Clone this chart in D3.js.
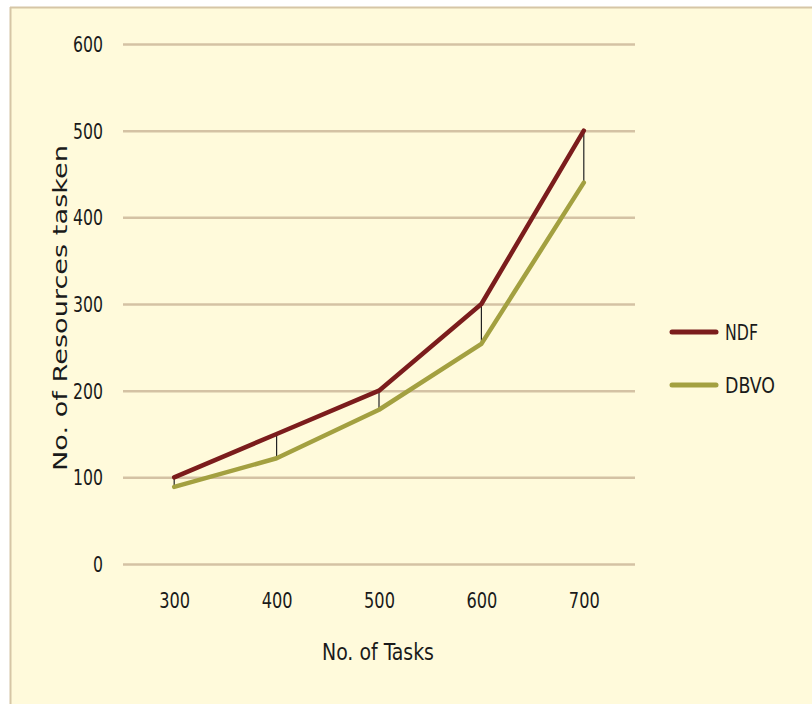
<!DOCTYPE html>
<html><head><meta charset="utf-8">
<script src="https://cdn.jsdelivr.net/npm/d3@7"></script>
<style>
html,body{margin:0;padding:0;background:#fff;}
svg{display:block;}
</style></head>
<body>
<svg id="chart" width="812" height="704"></svg>
<script>
const categories = ["300","400","500","600","700"];
const ndfValues = [100,150,200,300,500];
const dbvoValues = [89,122,178,254,440];
const yTicks = [0,100,200,300,400,500,600];
const seriesNames = ["NDF","DBVO"];
const seriesColors = ["#7b1c1c","#a3a040"];

(function(){
const svg = d3.select("#chart");
svg.append("rect").attr("x",0).attr("y",0).attr("width",812).attr("height",704).attr("fill","#ffffff");
svg.append("rect").attr("x",10).attr("y",7).attr("width",802).attr("height",697).attr("fill","#fffadb");
svg.append("line").attr("x1",10).attr("x2",812).attr("y1",7.5).attr("y2",7.5).attr("stroke","#d6c6a6").attr("stroke-width",2);
svg.append("line").attr("x1",10.5).attr("x2",10.5).attr("y1",7).attr("y2",704).attr("stroke","#d6c6a6").attr("stroke-width",2);

const pLeft=123, pRight=635, pTop=44, pBottom=564;
const x = d3.scalePoint().domain(categories).range([pLeft,pRight]).padding(0.5);
const y = d3.scaleLinear().domain([0,600]).range([pBottom,pTop]);

const font = "'DejaVu Sans Condensed','DejaVu Sans',sans-serif";
const fitText = (sel, perChar) => sel.attr("lengthAdjust","spacingAndGlyphs")
  .attr("textLength", function(){ return this.textContent.length*perChar; });

// gridlines
const yAxis = d3.axisLeft(y).tickValues(yTicks).tickSize(-(pRight-pLeft)).tickPadding(20);
const gy = svg.append("g").attr("transform",`translate(${pLeft},0)`).call(yAxis);
gy.select(".domain").remove();
gy.selectAll(".tick line").attr("stroke","#d4c2a4").attr("stroke-width",2.5);
gy.selectAll(".tick text").attr("font-family",font).attr("font-size",21).attr("fill","#1a1a1a").attr("dy","0.36em").attr("x",-20);
fitText(gy.selectAll(".tick text"),10);

const xAxis = d3.axisBottom(x).tickSize(0).tickPadding(30);
const gx = svg.append("g").attr("transform",`translate(0,${pBottom})`).call(xAxis);
gx.select(".domain").remove();
gx.selectAll(".tick text").attr("font-family",font).attr("font-size",21).attr("fill","#1a1a1a").attr("dy","0.36em").attr("y",36);
fitText(gx.selectAll(".tick text"),10.3);

// drop lines
const drops = svg.append("g");
categories.forEach((c,i)=>{
  drops.append("line").attr("x1",x(c)).attr("x2",x(c)).attr("y1",y(ndfValues[i])).attr("y2",y(dbvoValues[i]))
    .attr("stroke","#222").attr("stroke-width",1.2);
});

const line = d3.line().x((d,i)=>x(categories[i])).y(d=>y(d));
[ndfValues,dbvoValues].forEach((vals,k)=>{
  svg.append("path").datum(vals).attr("d",line).attr("fill","none")
    .attr("stroke",seriesColors[k]).attr("stroke-width",4.5).attr("stroke-linejoin","round").attr("stroke-linecap","round");
});

// axis titles
svg.append("text").attr("x",378).attr("y",660).attr("text-anchor","middle")
  .attr("font-family",font).attr("font-size",23).attr("fill","#1a1a1a")
  .attr("lengthAdjust","spacingAndGlyphs").attr("textLength",112).text("No. of Tasks");
svg.append("text").attr("transform","translate(67,308) rotate(-90)").attr("text-anchor","middle")
  .attr("font-family","'DejaVu Sans',sans-serif").attr("font-size",19).attr("fill","#1a1a1a")
  .attr("lengthAdjust","spacingAndGlyphs").attr("textLength",326).text("No. of Resources tasken");

// legend
const legY = [332,385];
const legW = [33,50];
seriesNames.forEach((n,k)=>{
  svg.append("line").attr("x1",672).attr("x2",716).attr("y1",legY[k]).attr("y2",legY[k])
    .attr("stroke",seriesColors[k]).attr("stroke-width",5).attr("stroke-linecap","round");
  svg.append("text").attr("x",725).attr("y",legY[k]).attr("dy","0.36em")
    .attr("font-family",font).attr("font-size",22).attr("fill","#1a1a1a")
    .attr("lengthAdjust","spacingAndGlyphs").attr("textLength",legW[k]).text(n);
});
})();
</script>
</body></html>
